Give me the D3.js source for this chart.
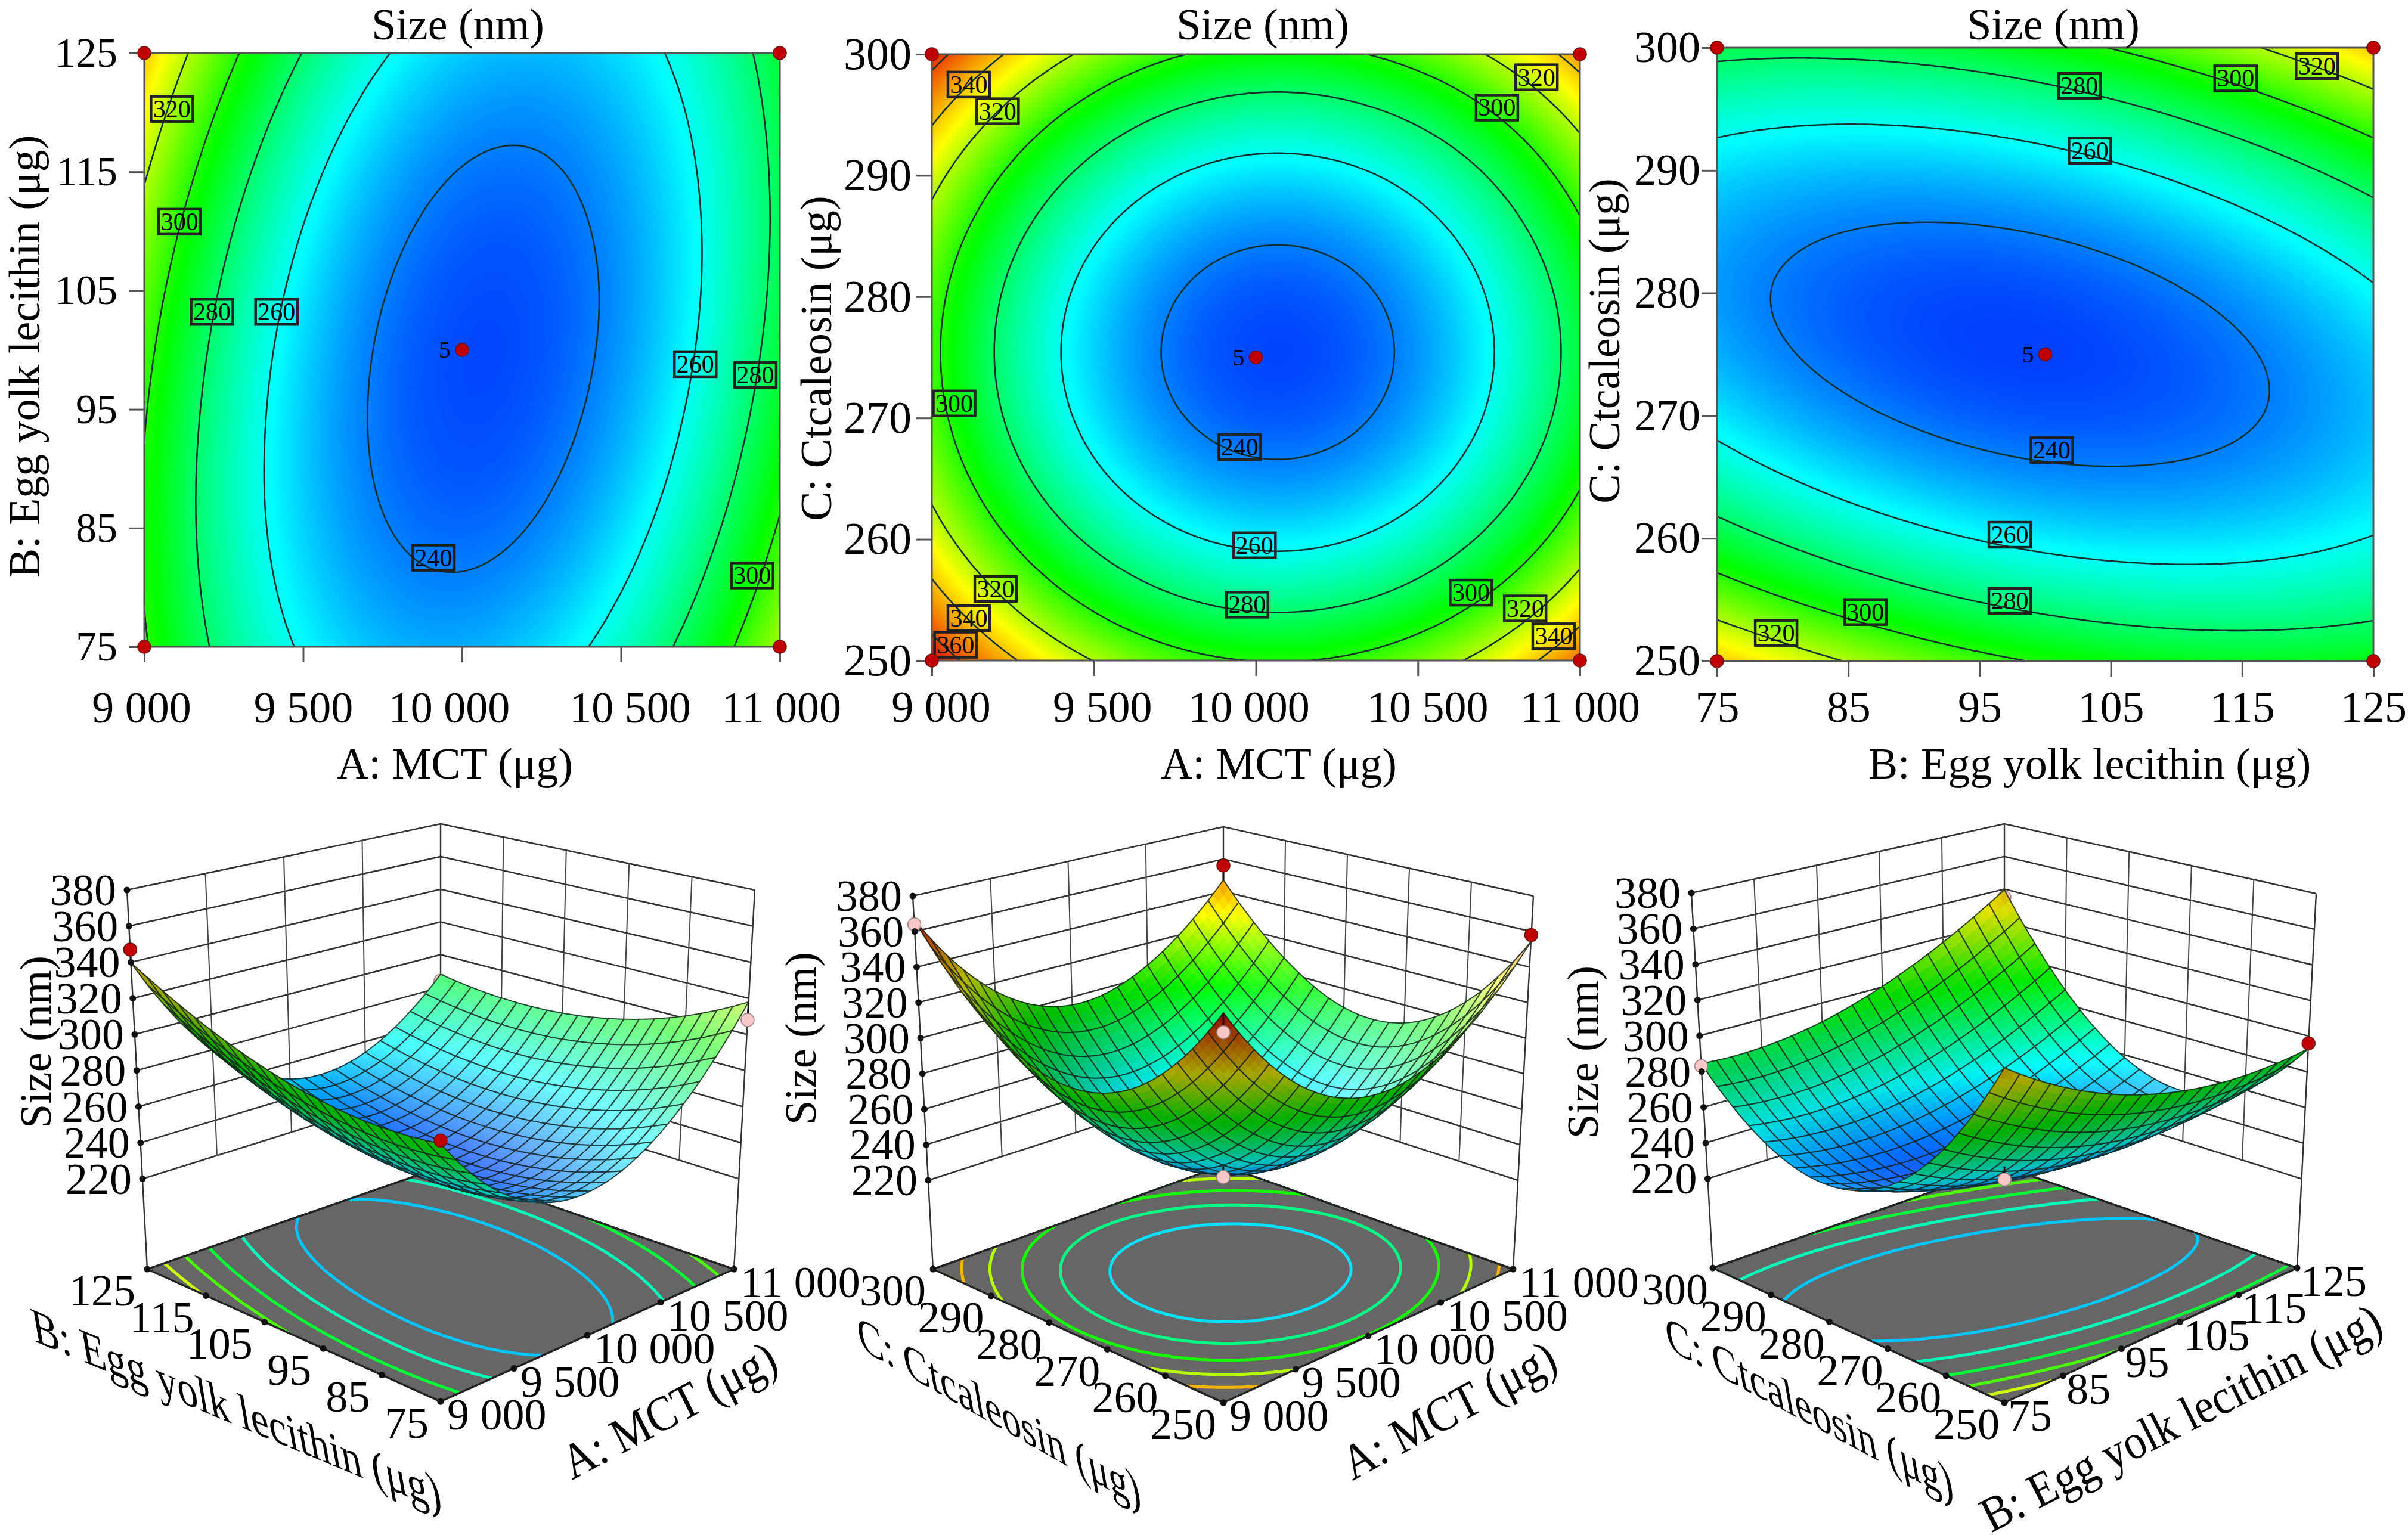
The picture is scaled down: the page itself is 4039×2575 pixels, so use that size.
<!DOCTYPE html>
<html>
<head>
<meta charset="utf-8">
<style>
html, body { margin: 0; padding: 0; background: #fff; }
text { font-family: "Liberation Serif", serif; fill: #000; }
</style>
<script src="https://cdn.jsdelivr.net/npm/d3@7"></script>
</head>
<body>
<svg id="chart" width="4039" height="2575"></svg>
<script>
var mctTicks = [9000, 9500, 10000, 10500, 11000]
var eggTicks = [75, 85, 95, 105, 115, 125]
var ctcTicks = [250, 260, 270, 280, 290, 300]
var sizeTicks = [220, 240, 260, 280, 300, 320, 340, 360, 380]

var mctLabel = 'A: MCT (μg)'
var eggLabel = 'B: Egg yolk lecithin (μg)'
var ctcLabel = 'C: Ctcaleosin (μg)'
var sizeLabel = 'Size (nm)'

// size read at the tick crossings, one row per second factor tick, low to high
var sizeMctEgg = [
	[301.5, 258.4, 246.7, 266.6, 318.0],
	[298.7, 252.1, 237.1, 253.6, 301.5],
	[301.2, 251.3, 232.8, 245.9, 290.4],
	[308.8, 255.5, 233.6, 243.2, 284.4],
	[321.7, 264.9, 239.6, 245.9, 283.6],
	[339.8, 279.6, 250.9, 253.7, 288.0]
]
var sizeMctCtc = [
	[371.1, 319.7, 299.7, 311.2, 354.2],
	[328.4, 277.0, 257.0, 268.5, 311.5],
	[306.6, 255.2, 235.2, 246.7, 289.7],
	[305.7, 254.3, 234.3, 245.8, 288.8],
	[325.7, 274.3, 254.3, 265.8, 308.8],
	[366.7, 315.3, 295.3, 306.8, 347.0]
]
var sizeEggCtc = [
	[340.2, 319.3, 304.1, 294.7, 291.0, 293.0],
	[287.3, 270.5, 259.4, 254.1, 254.5, 260.6],
	[255.3, 242.6, 235.6, 234.4, 238.8, 249.0],
	[244.2, 235.6, 232.6, 235.5, 244.1, 258.3],
	[253.9, 249.4, 250.6, 257.5, 270.2, 288.5],
	[284.5, 284.1, 289.3, 300.4, 317.1, 339.6]
]

var contourLevels = [240, 260, 280, 300, 320, 340, 360]

// contour tags: level, first factor, second factor
var tagsMctEgg = [
	[320, 9087, 120.3], [300, 9111, 110.8], [280, 9213, 103.2], [260, 9416, 103.2],
	[260, 10734, 98.8], [280, 10923, 97.9], [300, 10913, 81], [240, 9910, 82.5]
]
var tagsMctCtc = [
	[340, 9114, 297.5], [320, 9203, 295.3], [320, 10866, 298.1], [300, 10744, 295.6],
	[300, 9069, 271.2], [240, 9950, 267.6], [260, 9996, 259.5], [280, 9973, 254.6],
	[320, 9197, 255.9], [340, 9114, 253.5], [360, 9073, 251.3], [300, 10664, 255.6],
	[320, 10831, 254.3], [340, 10919, 252]
]
var tagsEggCtc = [
	[320, 120.7, 298.5], [300, 114.5, 297.5], [280, 102.6, 296.9], [260, 103.4, 291.6],
	[240, 100.5, 267.2], [260, 97.3, 260.3], [280, 97.3, 254.9], [300, 86.3, 254],
	[320, 79.5, 252.3]
]

// design points on the response surfaces: first factor, second factor, size, hidden by surface
var pointsMctEgg = [
	[9000, 125, 347, 0], [11000, 125, 284, 1], [11000, 75, 308, 0], [9000, 75, 303, 0], [10000, 100, 226, 1]
]
var pointsMctCtc = [
	[9000, 300, 364, 0], [11000, 300, 356, 0], [11000, 250, 358, 0], [9000, 250, 361, 0], [10000, 275, 226, 0]
]
var pointsEggCtc = [
	[75, 300, 283, 0], [125, 250, 296, 0], [125, 300, 335, 1], [75, 250, 335, 1], [100, 275, 224, 0]
]

var floorLevelsEdge = [250, 268, 287, 305, 323]
var floorLevelsMid = [254, 276, 298, 320, 342]

var svg = d3.select('#chart')

var color = d3.scaleLinear()
	.domain([231, 258, 295, 330, 372])
	.range(['#0040ff', '#00ffff', '#00ff00', '#ffff00', '#e80000'])
	.clamp(true)

var spaced = d => d3.format(',')(d).replace(',', ' ')

// smooth lookup in a table whose nodes sit on the tick crossings
function lookup(table) {
	var rows = table.length, cols = table[0].length
	var at = (r, c) => {
		// ghost nodes keep the curvature of the edge
		if (r < 0) return 3 * at(0, c) - 3 * at(1, c) + at(2, c)
		if (r >= rows) return 3 * at(rows - 1, c) - 3 * at(rows - 2, c) + at(rows - 3, c)
		if (c < 0) return 3 * at(r, 0) - 3 * at(r, 1) + at(r, 2)
		if (c >= cols) return 3 * at(r, cols - 1) - 3 * at(r, cols - 2) + at(r, cols - 3)
		return table[r][c]
	}
	var cr = (p, t) => 0.5 * (2 * p[1] + (p[2] - p[0]) * t + (2 * p[0] - 5 * p[1] + 4 * p[2] - p[3]) * t * t + (3 * p[1] - p[0] - 3 * p[2] + p[3]) * t * t * t)
	return function(s, t) {
		var x = Math.min(s * (cols - 1), cols - 1.000001), y = Math.min(t * (rows - 1), rows - 1.000001)
		var c = Math.floor(x), r = Math.floor(y)
		var line = [-1, 0, 1, 2].map(dr => cr([-1, 0, 1, 2].map(dc => at(r + dr, c + dc)), x - c))
		return cr(line, y - r)
	}
}

function gridValues(value, n) {
	var out = new Float64Array(n * n)
	for (var j = 0; j < n; j++) {
		for (var i = 0; i < n; i++) out[j * n + i] = value(i / (n - 1), j / (n - 1))
	}
	return out
}

var panels2d = [
	{id: 'p1', left: 242, right: 1308, top: 89, bottom: 1085, xs: mctTicks, ys: eggTicks, table: sizeMctEgg, tags: tagsMctEgg,
		xName: mctLabel, yName: eggLabel, titleX: 768, titleY: 66, xNameX: 763, yNameX: 66, yNameY: 598, baseY: 1212, yFont: 70, yPad: 19, nudge: [-5, 0, -22, 15, 2]},
	{id: 'p2', left: 1563, right: 2650, top: 91, bottom: 1108, xs: mctTicks, ys: ctcTicks, table: sizeMctCtc, tags: tagsMctCtc,
		xName: mctLabel, yName: ctcLabel, titleX: 2118, titleY: 66, xNameX: 2145, yNameX: 1394, yNameY: 601, baseY: 1211, yFont: 76, yPad: 8, nudge: [15, 14, -12, 16, 0]},
	{id: 'p3', left: 2880, right: 3981, top: 80, bottom: 1109, xs: eggTicks, ys: ctcTicks, table: sizeEggCtc, tags: tagsEggCtc,
		xName: eggLabel, yName: ctcLabel, titleX: 3444, titleY: 66, xNameX: 3505, yNameX: 2716, yNameY: 572, baseY: 1211, yFont: 74, yPad: 2, nudge: [0, 0, 0, 0, 0, 0]}
]

panels2d.forEach(drawContourPanel)

function drawContourPanel(p) {
	var g = svg.append('g').attr('id', p.id)
	var x = d3.scaleLinear().domain(d3.extent(p.xs)).range([p.left, p.right])
	var y = d3.scaleLinear().domain(d3.extent(p.ys)).range([p.bottom, p.top])
	var w = p.right - p.left, h = p.bottom - p.top
	var n = 220
	var f = lookup(p.table)
	var values = gridValues((s, t) => f(s, 1 - t), n)

	g.append('clipPath').attr('id', 'clip-' + p.id)
		.append('rect').attr('x', p.left).attr('y', p.top).attr('width', w).attr('height', h)

	var toPlot = d3.geoTransform({point: function(gx, gy) {
		this.stream.point(p.left + (gx - 0.5) / (n - 1) * w, p.top + (gy - 0.5) / (n - 1) * h)
	}})
	var path = d3.geoPath(toPlot)

	var plot = g.append('g').attr('clip-path', 'url(#clip-' + p.id + ')')
	plot.append('rect').attr('x', p.left).attr('y', p.top).attr('width', w).attr('height', h).attr('fill', color(228))
	plot.selectAll('path.band')
		.data(d3.contours().size([n, n]).thresholds(d3.range(229, 376, 0.5))(values))
		.enter().append('path')
			.attr('class', 'band')
			.attr('d', path)
			.attr('fill', d => color(d.value))
	plot.selectAll('path.level')
		.data(d3.contours().size([n, n]).thresholds(contourLevels)(values))
		.enter().append('path')
			.attr('class', 'level')
			.attr('d', path)
			.attr('fill', 'none')
			.attr('stroke', '#12302c')
			.attr('stroke-width', 2.6)

	g.append('rect').attr('x', p.left).attr('y', p.top).attr('width', w).attr('height', h)
		.attr('fill', 'none').attr('stroke', '#555').attr('stroke-width', 3)

	var xAxis = g.append('g').attr('transform', 'translate(0,' + p.bottom + ')')
		.call(d3.axisBottom(x).tickValues(p.xs).tickFormat(spaced).tickSize(26))
	var yAxis = g.append('g').attr('transform', 'translate(' + p.left + ',0)')
		.call(d3.axisLeft(y).tickValues(p.ys).tickSize(26).tickPadding(p.yPad))
	xAxis.select('.domain').remove()
	yAxis.select('.domain').remove()
	xAxis.selectAll('line').attr('stroke', '#555').attr('stroke-width', 3)
	yAxis.selectAll('line').attr('stroke', '#555').attr('stroke-width', 3)
	xAxis.selectAll('text')
		.attr('y', p.baseY - p.bottom).attr('dy', 0)
		.attr('dx', (d, i) => p.nudge[i])
		.attr('font-size', 74).style('font-family', '"Liberation Serif", serif')
	yAxis.selectAll('text')
		.attr('font-size', p.yFont).style('font-family', '"Liberation Serif", serif')

	g.selectAll('g.tag')
		.data(p.tags)
		.enter().append('g')
			.attr('class', 'tag')
			.attr('transform', d => 'translate(' + x(d[1]) + ',' + y(d[2]) + ')')
			.call(t => {
				t.append('rect').attr('x', -35).attr('y', -21).attr('width', 70).attr('height', 42)
					.attr('fill', 'none').attr('stroke', '#222').attr('stroke-width', 4.5)
				t.append('text').attr('text-anchor', 'middle').attr('dy', 14).attr('font-size', 42).text(d => d[0])
			})

	var xEnds = d3.extent(p.xs), yEnds = d3.extent(p.ys)
	var dots = [[xEnds[0], yEnds[0]], [xEnds[1], yEnds[0]], [xEnds[0], yEnds[1]], [xEnds[1], yEnds[1]], [d3.mean(xEnds), d3.mean(yEnds)]]
	g.selectAll('circle.design')
		.data(dots)
		.enter().append('circle')
			.attr('class', 'design')
			.attr('cx', d => x(d[0])).attr('cy', d => y(d[1])).attr('r', 11)
			.attr('fill', '#c00000').attr('stroke', '#701010').attr('stroke-width', 1.5)
	g.append('text')
		.attr('x', x(d3.mean(xEnds)) - 29).attr('y', y(d3.mean(yEnds)) + 13)
		.attr('text-anchor', 'middle').attr('font-size', 40).text('5')

	g.append('text').attr('x', p.titleX).attr('y', p.titleY).attr('text-anchor', 'middle').attr('font-size', 74).text(sizeLabel)
	g.append('text').attr('x', p.xNameX).attr('y', 1306).attr('text-anchor', 'middle').attr('font-size', 74).text(p.xName)
	g.append('text')
		.attr('transform', 'translate(' + p.yNameX + ',' + p.yNameY + ') rotate(-90)')
		.attr('text-anchor', 'middle').attr('font-size', 74).text(p.yName)
}

var panels3d = [
	{id: 's1', table: sizeMctEgg, us: mctTicks, vs: eggTicks, points: pointsMctEgg, levels: floorLevelsEdge,
		floor: [[739, 2351], [1231, 2129], [739, 1958], [247, 2129]],
		roof: [[739, 1660], [1266, 1493], [739, 1382], [213, 1493]],
		uName: mctLabel, vName: eggLabel,
		uText: [1122, 2365, -28], vText: [396, 2364, 22.6], zName: [85, 1748],
		uDx: 11, vDx: -20},
	{id: 's2', table: sizeMctCtc, us: mctTicks, vs: ctcTicks, points: pointsMctCtc, levels: floorLevelsMid,
		floor: [[2052, 2353], [2538, 2129], [2052, 1955], [1565, 2129]],
		roof: [[2052, 1670], [2572, 1503], [2052, 1387], [1531, 1503]],
		uName: mctLabel, vName: ctcLabel,
		uText: [2430, 2365, -28.4], vText: [1675, 2368, 29.6], zName: [1368, 1742],
		uDx: 10, vDx: -12},
	{id: 's3', table: sizeEggCtc, us: eggTicks, vs: ctcTicks, points: pointsEggCtc, levels: floorLevelsEdge,
		floor: [[3362, 2353], [3853, 2127], [3362, 1957], [2873, 2127]],
		roof: [[3362, 1660], [3885, 1499], [3362, 1382], [2837, 1498]],
		uName: eggLabel, vName: ctcLabel,
		uText: [3658, 2378, -27], vText: [3034, 2362, 28], zName: [2680, 1765],
		uDx: 6, vDx: -8}
]

panels3d.forEach(drawSurfacePanel)

function drawSurfacePanel(p) {
	var g = svg.append('g').attr('id', p.id)
	var zScale = d3.scaleLinear().domain([170, 380]).range([0, 1])
	var uScale = d3.scaleLinear().domain(d3.extent(p.us)).range([0, 1])
	var vScale = d3.scaleLinear().domain(d3.extent(p.vs)).range([0, 1])
	var f = lookup(p.table)

	var corner = (q, u, v) => [0, 1].map(k =>
		(1 - u) * (1 - v) * q[0][k] + u * (1 - v) * q[1][k] + u * v * q[2][k] + (1 - u) * v * q[3][k])
	var project = (u, v, w) => {
		var a = corner(p.floor, u, v), b = corner(p.roof, u, v)
		return [a[0] + (b[0] - a[0]) * w, a[1] + (b[1] - a[1]) * w]
	}
	var line = d3.line()
	var wallLine = (pts, width, col) => g.append('path').attr('d', line(pts)).attr('fill', 'none').attr('stroke', col).attr('stroke-width', width)

	// walls
	sizeTicks.forEach(z => {
		var w = zScale(z)
		wallLine([project(0, 1, w), project(1, 1, w), project(1, 0, w)], 2.6, '#333')
	})
	var w0 = zScale(220), w1 = zScale(380)
	p.us.slice(1, -1).forEach(t => wallLine([project(uScale(t), 1, w0), project(uScale(t), 1, w1)], 2, '#444'))
	p.vs.slice(1, -1).forEach(t => wallLine([project(1, vScale(t), w0), project(1, vScale(t), w1)], 2, '#444'))
	wallLine([project(0, 1, 0), project(0, 1, 1)], 2.4, '#333')
	wallLine([project(1, 1, 0), project(1, 1, 1)], 2.4, '#333')
	wallLine([project(1, 0, 0), project(1, 0, 1)], 2.4, '#333')

	// floor with its contours
	var floorPts = [[0, 0], [1, 0], [1, 1], [0, 1]].map(c => project(c[0], c[1], 0))
	g.append('clipPath').attr('id', 'clip-' + p.id).append('path').attr('d', line(floorPts) + 'Z')
	g.append('path').attr('d', line(floorPts) + 'Z').attr('fill', '#666')
	var n = 160
	var toFloor = d3.geoTransform({point: function(gx, gy) {
		var xy = project((gx - 0.5) / (n - 1), (gy - 0.5) / (n - 1), 0)
		this.stream.point(xy[0], xy[1])
	}})
	g.append('g').attr('clip-path', 'url(#clip-' + p.id + ')')
		.selectAll('path')
		.data(d3.contours().size([n, n]).thresholds(p.levels)(gridValues(f, n)))
		.enter().append('path')
			.attr('d', d3.geoPath(toFloor))
			.attr('fill', 'none')
			.attr('stroke', d => color(d.value))
			.attr('stroke-width', 5)
	g.append('path').attr('d', line(floorPts) + 'Z').attr('fill', 'none').attr('stroke', '#222').attr('stroke-width', 3.5)

	var drawPoint = d => {
		var u = uScale(d[0]), v = vScale(d[1])
		var top = project(u, v, zScale(d[2]))
		var low = project(u, v, zScale(f(u, v)))
		var above = d[2] >= f(u, v)
		g.append('path').attr('d', line([top, low])).attr('stroke', '#111').attr('stroke-width', 3)
		g.append('ellipse').attr('cx', top[0]).attr('cy', top[1]).attr('rx', 11).attr('ry', 11)
			.attr('fill', above ? '#c00000' : '#f8c8c8').attr('stroke', above ? '#701010' : '#a08080').attr('stroke-width', 1.5)
	}
	p.points.filter(d => d[3]).forEach(drawPoint)

	// surface, far cells first
	var cells = 20, sub = 3, step = 1 / cells, dl = step / sub
	var order = []
	for (var i = 0; i < cells; i++) for (var j = 0; j < cells; j++) order.push([i, j])
	order.sort((a, b) => (b[0] + b[1]) - (a[0] + a[1]))
	var surf = g.append('g')
	var node = (u, v) => project(u, v, zScale(f(u, v)))
	order.forEach(c => {
		var u0 = c[0] * step, v0 = c[1] * step
		for (var a = 0; a < sub; a++) {
			for (var b = 0; b < sub; b++) {
				var ua = u0 + a * dl, va = v0 + b * dl
				var q = [node(ua, va), node(ua + dl, va), node(ua + dl, va + dl), node(ua, va + dl)]
				var fill = shade(ua + dl / 2, va + dl / 2, q)
				surf.append('path').attr('d', line(q) + 'Z').attr('fill', fill).attr('stroke', fill).attr('stroke-width', 1.2)
			}
		}
		var ring = []
		for (a = 0; a < sub; a++) ring.push(node(u0 + a * dl, v0))
		for (a = 0; a < sub; a++) ring.push(node(u0 + step, v0 + a * dl))
		for (a = 0; a < sub; a++) ring.push(node(u0 + step - a * dl, v0 + step))
		for (a = 0; a < sub; a++) ring.push(node(u0, v0 + step - a * dl))
		surf.append('path').attr('d', line(ring) + 'Z').attr('fill', 'none').attr('stroke', '#101a14').attr('stroke-width', 2).attr('stroke-opacity', 0.8)
	})

	function shade(u, v, q) {
		var e = 0.01
		var value = f(u, v)
		var hu = (f(Math.min(u + e, 1), v) - f(Math.max(u - e, 0), v)) / (2 * e) / 160
		var hv = (f(u, Math.min(v + e, 1)) - f(u, Math.max(v - e, 0))) / (2 * e) / 160
		var len = Math.sqrt(hu * hu + hv * hv + 1)
		var nz = 1 / len
		var area = d3.polygonArea(q)
		var base = d3.rgb(color(value))
		if (area < 0) {
			var dim = 0.45 + 0.45 * nz
			return d3.rgb(base.r * dim, base.g * dim, base.b * dim).formatHex()
		}
		var lit = (0.6 * hu - 0.6 * hv + 0.53) / len
		if (lit > 0.2) return d3.interpolateRgb(base, '#fff')(Math.min((lit - 0.2) * 0.65, 0.55))
		var k = Math.max(1 - (0.2 - lit) * 0.5, 0.72)
		return d3.rgb(base.r * k, base.g * k, base.b * k).formatHex()
	}

	p.points.filter(d => !d[3]).forEach(drawPoint)

	// ticks and tick labels
	var dot = xy => g.append('circle').attr('cx', xy[0]).attr('cy', xy[1]).attr('r', 5.5).attr('fill', '#111')
	sizeTicks.forEach(z => {
		var xy = project(0, 1, zScale(z))
		dot(xy)
		g.append('text').attr('x', xy[0] - 18).attr('y', xy[1]).attr('dy', '0.34em')
			.attr('text-anchor', 'end').attr('font-size', 74).text(z)
	})
	p.us.forEach(t => {
		var xy = project(uScale(t), 0, 0)
		dot(xy)
		g.append('text').attr('x', xy[0] + p.uDx).attr('y', xy[1] + 22).attr('dy', '0.34em')
			.attr('text-anchor', 'start').attr('font-size', 74).text(spaced(t))
	})
	p.vs.forEach(t => {
		var xy = project(0, vScale(t), 0)
		dot(xy)
		g.append('text').attr('x', xy[0] + p.vDx).attr('y', xy[1] + 36).attr('dy', '0.34em')
			.attr('text-anchor', 'end').attr('font-size', 74).text(t)
	})

	leaningLabel(g, p.uName, p.uText, [-0.5, -1.0])
	leaningLabel(g, p.vName, p.vText, [-0.2, -1.15])
	g.append('text')
		.attr('transform', 'translate(' + p.zName[0] + ',' + p.zName[1] + ') rotate(-90)')
		.attr('text-anchor', 'middle').attr('font-size', 74).text(sizeLabel)
}

function leaningLabel(g, label, spot, up) {
	var a = spot[2] * Math.PI / 180
	g.append('text')
		.attr('transform', 'matrix(' + [Math.cos(a), Math.sin(a), -up[0], -up[1], spot[0], spot[1]].join(',') + ')')
		.attr('text-anchor', 'middle').attr('dy', '0.34em').attr('font-size', 74).text(label)
}
</script>
</body>
</html>
